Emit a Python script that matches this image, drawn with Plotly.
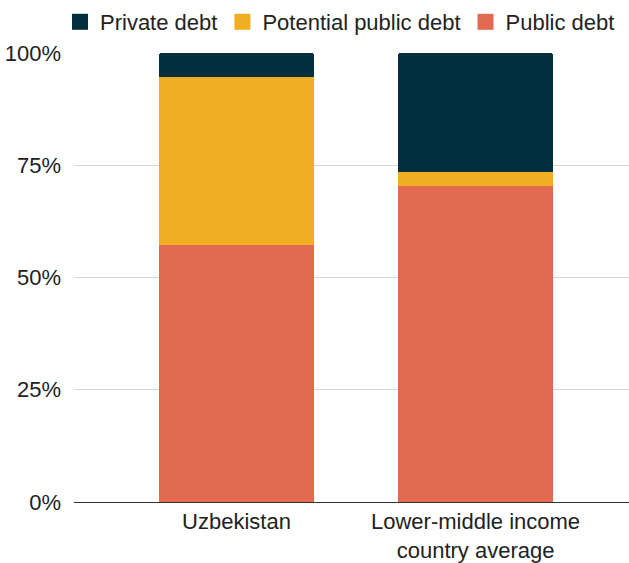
import plotly.graph_objects as go

# Debt composition, shares of total (%)
categories = ["Uzbekistan", "Lower-middle income<br>country average"]
public_debt = [57.2, 70.4]
potential_public_debt = [37.5, 3.2]
private_debt = [5.3, 26.4]
y_ticks = [0, 25, 50, 75, 100]
y_tick_labels = ["0%", "25%", "50%", "75%", "100%"]

series = [
    ("Public debt", public_debt, "#E26A51"),
    ("Potential public debt", potential_public_debt, "#F0AF23"),
    ("Private debt", private_debt, "#03303E"),
]

FONT = "Liberation Sans, Arial, sans-serif"

fig = go.Figure()
for name, values, color in series:
    fig.add_trace(go.Bar(
        x=categories, y=values, name=name,
        marker=dict(color=color, line=dict(width=0)),
        width=0.649, showlegend=False,
    ))

# Legend entries with larger square swatches
for name, values, color in reversed(series):
    fig.add_trace(go.Scatter(
        x=[None], y=[None], mode="markers", name=name,
        marker=dict(symbol="square", size=16, color=color),
        showlegend=True,
    ))

fig.update_layout(
    width=629, height=563,
    margin=dict(l=74, r=0, t=53, b=61),
    paper_bgcolor="white", plot_bgcolor="white",
    barmode="stack", barcornerradius=3,
    font=dict(family=FONT, size=22, color="#222222"),
    legend=dict(
        orientation="h",
        xref="container", x=340 / 629, xanchor="center",
        yref="container", y=1 - 22 / 563, yanchor="middle",
        font=dict(size=22, color="#222222"),
        itemsizing="trace", traceorder="normal",
    ),
    xaxis=dict(
        range=[-0.680, 1.642], automargin=False,
        showgrid=False, showline=True, linecolor="#333333", linewidth=1,
        ticks="", zeroline=False,
    ),
    yaxis=dict(
        range=[0, 100], automargin=False, tickmode="array",
        tickvals=y_ticks, ticktext=y_tick_labels,
        showgrid=True, gridcolor="#D6D6D6", gridwidth=1,
        zeroline=False, showline=False, ticks="",
        ticklabelstandoff=12,
    ),
)

fig.write_html("out.html")
